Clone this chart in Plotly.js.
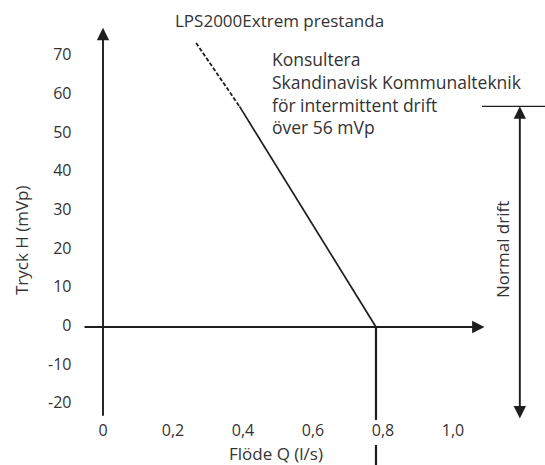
<!DOCTYPE html>
<html>
<head>
<meta charset="utf-8">
<script src="https://cdn.plot.ly/plotly-3.0.1.min.js"></script>
<style>html,body{margin:0;padding:0;background:#fff;}#chart{width:545px;height:465px;}</style>
</head>
<body>
<div id="chart"></div>
<script>
// ---- data ----
const curveQ = [0.266, 0.39, 0.78];      // Flöde Q (l/s)
const curveH = [73.4, 57, 0];            // Tryck H (mVp)
const cutoffQ = 0.78;                    // vertical drop at max flow
const normalDriftTop = 57;               // upper limit of normal drift
const normalDriftBottom = -24;           // lower end of normal drift arrow
const xTickVals = [0, 0.2, 0.4, 0.6, 0.8, 1.0];
const xTickText = ['0', '0,2', '0,4', '0,6', '0,8', '1,0'];
const yTickVals = [70, 60, 50, 40, 30, 20, 10, 0, -10, -20];
const yTickText = ['70', '60', '50', '40', '30', '20', '10', '0', '-10', '-20'];
const titleText = 'LPS2000Extrem prestanda';
const noteText = 'Konsultera<br>Skandinavisk Kommunalteknik<br>för intermittent drift<br>över 56 mVp';
const xTitle = 'Flöde Q (l/s)';
const yTitle = 'Tryck H (mVp)';
const driftLabel = 'Normal drift';

// ---- layout geometry ----
const xRange = [-0.2943, 1.2629];
const yRange = [-35.66, 84.5];
const ink = '#1e1e1e';
const txt = '#333';
const FONT = 'Open Sans, sans-serif';

const traces = [
  { // dashed upper part of curve
    x: curveQ.slice(0, 2), y: curveH.slice(0, 2), mode: 'lines',
    line: { color: ink, width: 1.8, dash: '4px,2px' }, hoverinfo: 'skip'
  },
  { // solid part of curve
    x: curveQ.slice(1), y: curveH.slice(1), mode: 'lines',
    line: { color: ink, width: 1.7 }, hoverinfo: 'skip'
  },
  { // vertical drop at max flow (broken by the tick label)
    x: [cutoffQ, cutoffQ, null, cutoffQ, cutoffQ],
    y: [0, -24, null, -30.5, yRange[0]],
    mode: 'lines', line: { color: ink, width: 2.2 }, hoverinfo: 'skip'
  },
  { // upper limit line of normal drift
    x: [1.083, xRange[1]], y: [normalDriftTop, normalDriftTop], mode: 'lines',
    line: { color: ink, width: 1.2 }, hoverinfo: 'skip'
  },
  { // x tick labels
    x: xTickVals, y: xTickVals.map(() => -27.1), text: xTickText, mode: 'text',
    textposition: 'middle center', textfont: { family: FONT, size: 16, color: txt },
    hoverinfo: 'skip', cliponaxis: false
  },
  { // y tick labels
    x: yTickVals.map(() => -0.09), y: yTickVals, text: yTickText, mode: 'text',
    textposition: 'middle left', textfont: { family: FONT, size: 16, color: txt },
    hoverinfo: 'skip', cliponaxis: false
  }
];

function arrow(x0, y0, x1, y1, both) {
  return {
    x: x1, y: y1, ax: x0, ay: y0, xref: 'x', yref: 'y', axref: 'x', ayref: 'y',
    text: '', showarrow: true, arrowhead: 2, arrowsize: 1.3, arrowwidth: 1.9,
    arrowcolor: ink, arrowside: both ? 'end+start' : 'end', standoff: 0, startstandoff: 0
  };
}

const annotations = [
  arrow(-0.057, 0, 1.09, 0),                 // x axis
  arrow(0, -23.3, 0, 77.3),                  // y axis
  arrow(1.191, normalDriftBottom, 1.191, normalDriftTop, true), // normal drift
  { x: 0.503, y: 79.1, xref: 'x', yref: 'y', text: titleText, showarrow: false,
    font: { family: FONT, size: 17, color: txt }, xanchor: 'center', yanchor: 'middle' },
  { x: (270 - 103) / 350, y: 72.8, xref: 'x', yref: 'y', text: noteText, showarrow: false,
    align: 'left', xanchor: 'left', yanchor: 'top',
    font: { family: FONT, size: 17.5, color: txt } },
  { x: 0.494, y: -32.8, xref: 'x', yref: 'y', text: xTitle, showarrow: false,
    font: { family: FONT, size: 17, color: txt } },
  { x: -0.231, y: 22.5, xref: 'x', yref: 'y', text: yTitle, showarrow: false, textangle: -90,
    font: { family: FONT, size: 17, color: txt } },
  { x: 1.143, y: 19.9, xref: 'x', yref: 'y', text: driftLabel, showarrow: false, textangle: -90,
    font: { family: FONT, size: 17, color: txt } }
];

const layout = {
  width: 545, height: 465,
  margin: { l: 0, r: 0, t: 0, b: 0, pad: 0 },
  paper_bgcolor: '#fff', plot_bgcolor: '#fff',
  showlegend: false,
  xaxis: { range: xRange, visible: false, fixedrange: true },
  yaxis: { range: yRange, visible: false, fixedrange: true },
  annotations: annotations
};

Plotly.newPlot('chart', traces, layout, { staticPlot: true, displayModeBar: false });
</script>
</body>
</html>
